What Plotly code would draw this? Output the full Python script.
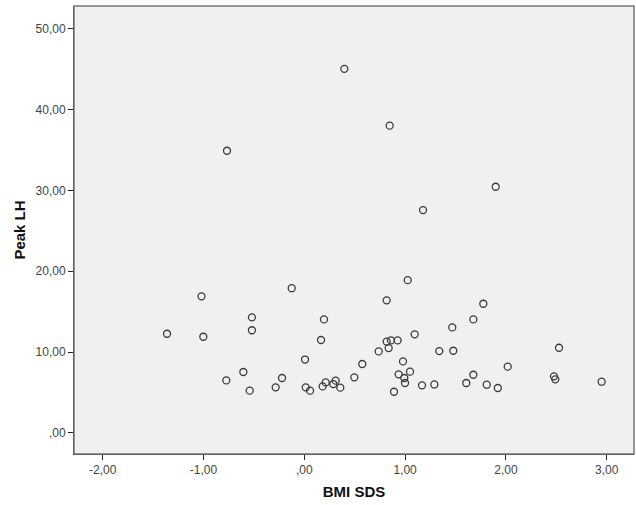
import plotly.graph_objects as go

bmi_sds = [0.397, 0.847, -0.767, 1.899, 1.178, 1.026, -0.125, -1.02, 0.817, 1.776,
           -0.52, 0.195, 1.677, 1.468, -0.52, -1.362, 1.095, -1.002, 0.166, 0.817,
           0.86, 0.926, 0.837, 2.527, 0.738, 1.339, 1.478, 0.007, 0.979, 0.575,
           2.018, -0.605, 1.049, 0.936, 1.677, 2.477, 0.496, -0.221, 0.992, 2.49,
           -0.774, 0.311, 2.95, 0.212, 0.999, 1.607, 0.288, 1.29, 1.81, 1.168,
           0.182, -0.284, 0.014, 0.357, 1.92, -0.542, 0.057, 0.89]
peak_lh = [45.03, 38.0, 34.9, 30.45, 27.56, 18.9, 17.9, 16.9, 16.4, 15.98,
           14.3, 14.04, 14.04, 13.05, 12.7, 12.27, 12.2, 11.9, 11.5, 11.3,
           11.45, 11.45, 10.5, 10.54, 10.09, 10.13, 10.17, 9.08, 8.85, 8.53,
           8.2, 7.54, 7.58, 7.25, 7.2, 7.0, 6.88, 6.8, 6.8, 6.63,
           6.5, 6.47, 6.34, 6.25, 6.18, 6.18, 6.05, 6.0, 5.97, 5.89,
           5.76, 5.64, 5.64, 5.6, 5.56, 5.23, 5.23, 5.1]

x_tickvals = [-2, -1, 0, 1, 2, 3]
x_ticktext = ["-2,00", "-1,00", ",00", "1,00", "2,00", "3,00"]
y_tickvals = [0, 10, 20, 30, 40, 50]
y_ticktext = [",00", "10,00", "20,00", "30,00", "40,00", "50,00"]

FONT = "Liberation Sans, Arial"
fig = go.Figure()
fig.add_trace(go.Scatter(
    x=bmi_sds, y=peak_lh, mode="markers",
    marker=dict(symbol="circle-open", size=7, color="#3a3a3a", line=dict(width=1.3, color="#3a3a3a")),
    showlegend=False, hoverinfo="skip"))

axis_common = dict(showgrid=False, zeroline=False, ticks="outside", ticklen=5,
                   tickwidth=1, tickcolor="#222", showline=True, linecolor="#222",
                   linewidth=1, automargin=False,
                   tickfont=dict(family=FONT, size=12, color="#444"))

fig.update_xaxes(range=[-2.285, 3.271], tickvals=x_tickvals, ticktext=x_ticktext,
                 title=dict(text="<b>BMI SDS</b>", font=dict(family=FONT, size=15, color="#111"), standoff=10),
                 **axis_common)
fig.update_yaxes(range=[-2.6, 52.8], tickvals=y_tickvals, ticktext=y_ticktext,
                 title=dict(text="<b>Peak LH</b>", font=dict(family=FONT, size=15, color="#111"), standoff=6),
                 **axis_common)

fig.add_shape(type="rect", xref="paper", yref="paper", x0=0, y0=0, x1=1, y1=1,
              line=dict(color="#777", width=1.5), fillcolor="rgba(0,0,0,0)", layer="above")

fig.update_layout(width=636, height=505, margin=dict(l=74, r=2, t=6, b=51),
                  plot_bgcolor="#F0F0F0", paper_bgcolor="white")

fig.write_html("out.html", config={"displayModeBar": False},
               post_script="document.body.style.margin='0';")
